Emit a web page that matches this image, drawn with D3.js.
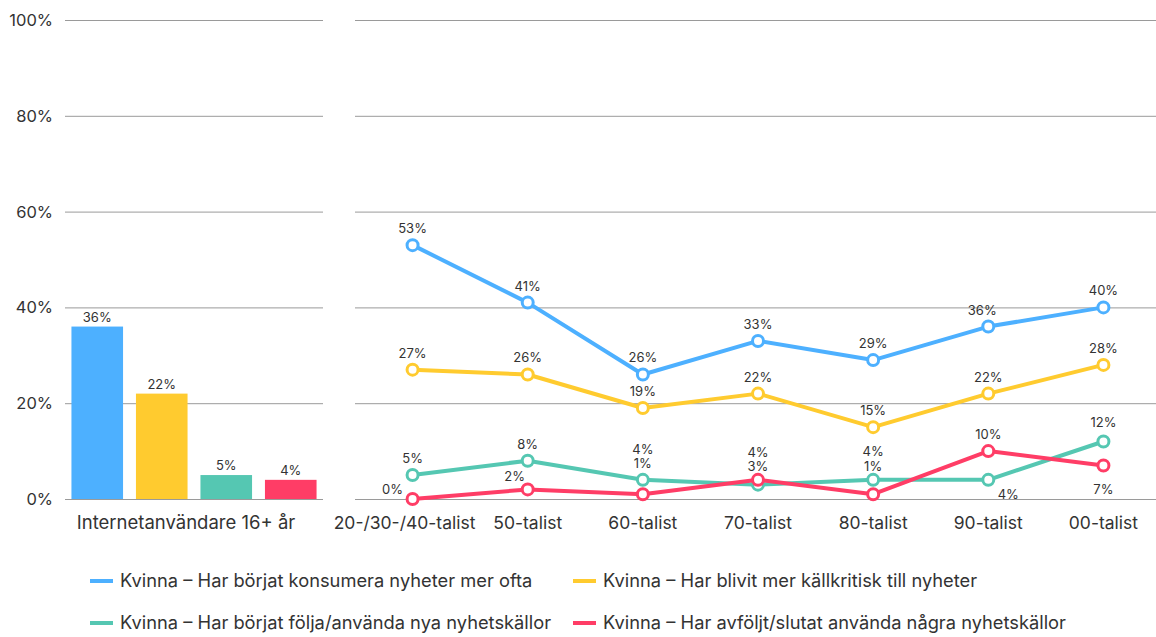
<!DOCTYPE html>
<html>
<head>
<meta charset="utf-8">
<script src="https://cdn.jsdelivr.net/npm/d3@7"></script>
<style>
  body { margin: 0; background: #fff; }
  text { font-family: "Inter", "Noto Sans", sans-serif; }
</style>
</head>
<body>
<div id="chart"></div>
<script>
var width = 1156;
var height = 637;

var seriesNames = [
  "Kvinna – Har börjat konsumera nyheter mer ofta",
  "Kvinna – Har blivit mer källkritisk till nyheter",
  "Kvinna – Har börjat följa/använda nya nyhetskällor",
  "Kvinna – Har avföljt/slutat använda några nyhetskällor"
];
var seriesColors = ["#4db0ff", "#ffcb2f", "#55c7b2", "#ff3d66"];

var totalCategory = "Internetanvändare 16+ år";
var totalValues = [36, 22, 5, 4];

var generations = ["20-/30-/40-talist", "50-talist", "60-talist", "70-talist", "80-talist", "90-talist", "00-talist"];
var blueValues = [53, 41, 26, 33, 29, 36, 40];
var yellowValues = [27, 26, 19, 22, 15, 22, 28];
var tealValues = [5, 8, 4, 3, 4, 4, 12];
var redValues = [0, 2, 1, 4, 1, 10, 7];
var lineSeries = [blueValues, yellowValues, tealValues, redValues];

var yTicks = [0, 20, 40, 60, 80, 100];

// label placement tweaks [dx, dy] per series/point, to avoid overlaps
var labelOffsets = [
  [[0,-17],[0,-17],[0,-17],[0,-17],[0,-17],[-6,-17],[0,-17]],
  [[0,-17],[0,-17],[0,-17],[0,-17],[0,-17],[0,-17],[0,-17]],
  [[0,-17],[0,-17],[0,-31],[0,-19],[0,-29],[20,14],[0,-20]],
  [[-20,-10],[-13,-13],[0,-31],[0,-28],[0,-28],[0,-17],[0,24]]
];

var svg = d3.select("#chart").append("svg")
  .attr("width", width)
  .attr("height", height);

var y = d3.scaleLinear().domain([0, 100]).range([499, 20]);

// left panel: bars
var xBar = d3.scaleBand().domain(d3.range(totalValues.length)).range([65, 323])
  .paddingInner(0.2).paddingOuter(0.1);

svg.append("g").selectAll("line").data(yTicks).join("line")
  .attr("x1", 65).attr("x2", 323)
  .attr("y1", d => y(d) + 0.5).attr("y2", d => y(d) + 0.5)
  .attr("stroke", "#9a9a9a").attr("stroke-width", 1);

svg.append("g").selectAll("text").data(yTicks).join("text")
  .attr("x", 53).attr("y", d => y(d) + 6)
  .attr("text-anchor", "end")
  .attr("font-size", 16.5).attr("fill", "#333")
  .text(d => d + "%");

svg.append("g").selectAll("rect").data(totalValues).join("rect")
  .attr("x", (d, i) => xBar(i))
  .attr("width", xBar.bandwidth())
  .attr("y", d => y(d))
  .attr("height", d => y(0) - y(d))
  .attr("fill", (d, i) => seriesColors[i]);

svg.append("g").selectAll("text").data(totalValues).join("text")
  .attr("x", (d, i) => xBar(i) + xBar.bandwidth() / 2)
  .attr("y", d => y(d) - 5)
  .attr("text-anchor", "middle")
  .attr("font-size", 13).attr("fill", "#333")
  .text(d => d + "%");

svg.append("text")
  .attr("x", 186).attr("y", 529)
  .attr("text-anchor", "middle")
  .attr("font-size", 18.5).attr("fill", "#333")
  .text(totalCategory);

// right panel: lines
var xLine = d3.scalePoint().domain(generations).range([355, 1161]).padding(0.5);

svg.append("g").selectAll("line").data(yTicks).join("line")
  .attr("x1", 355).attr("x2", 1156)
  .attr("y1", d => y(d) + 0.5).attr("y2", d => y(d) + 0.5)
  .attr("stroke", "#9a9a9a").attr("stroke-width", 1);

svg.append("g").selectAll("text").data(generations).join("text")
  .attr("x", (d, i) => xLine(d) - (i === 0 ? 8 : 0)).attr("y", 529)
  .attr("text-anchor", "middle")
  .attr("font-size", 17.5).attr("fill", "#333")
  .text(d => d);

var line = d3.line()
  .x((d, i) => xLine(generations[i]))
  .y(d => y(d));

lineSeries.forEach(function(vals, s) {
  var g = svg.append("g");
  g.append("path")
    .attr("d", line(vals))
    .attr("fill", "none")
    .attr("stroke", seriesColors[s])
    .attr("stroke-width", 4)
    .attr("stroke-linejoin", "round");
  g.selectAll("circle").data(vals).join("circle")
    .attr("cx", (d, i) => xLine(generations[i]))
    .attr("cy", d => y(d))
    .attr("r", 5.5)
    .attr("fill", "#fff")
    .attr("stroke", seriesColors[s])
    .attr("stroke-width", 3);
});

lineSeries.forEach(function(vals, s) {
  svg.append("g").selectAll("text").data(vals).join("text")
    .attr("x", (d, i) => xLine(generations[i]) + labelOffsets[s][i][0])
    .attr("y", (d, i) => y(d) + labelOffsets[s][i][1] + 5)
    .attr("text-anchor", "middle")
    .attr("font-size", 13).attr("fill", "#333")
    .text(d => d + "%");
});

// legend
var legendPos = [[90, 581], [573, 581], [90, 623], [573, 623]];
var legend = svg.append("g").selectAll("g").data(seriesNames).join("g")
  .attr("transform", (d, i) => "translate(" + legendPos[i][0] + "," + legendPos[i][1] + ")");
legend.append("line")
  .attr("x1", 0).attr("x2", 23)
  .attr("stroke", (d, i) => seriesColors[i])
  .attr("stroke-width", 4);
legend.append("text")
  .attr("x", 30).attr("y", 6)
  .attr("font-size", 18.3).attr("fill", "#333")
  .text(d => d);
</script>
</body>
</html>
